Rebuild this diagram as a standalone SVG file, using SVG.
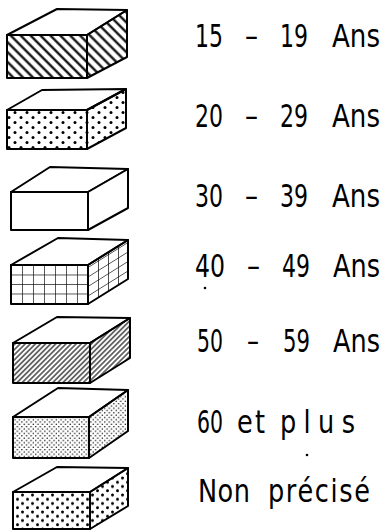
<svg xmlns="http://www.w3.org/2000/svg" width="386" height="531" viewBox="0 0 386 531">
<defs>
  <pattern id="hatchBold" patternUnits="userSpaceOnUse" width="7" height="7" patternTransform="rotate(-45)">
    <line x1="3.5" y1="-1" x2="3.5" y2="8" stroke="#000" stroke-width="2.2"/>
  </pattern>
  <pattern id="hatchFine" patternUnits="userSpaceOnUse" width="3.6" height="3.6" patternTransform="rotate(45)">
    <line x1="1.8" y1="-1" x2="1.8" y2="5" stroke="#000" stroke-width="1.1"/>
  </pattern>
  <pattern id="dotsBig" patternUnits="userSpaceOnUse" width="12" height="10">
    <circle cx="3" cy="2.5" r="1.5" fill="#000"/>
    <circle cx="9" cy="7.5" r="1.5" fill="#000"/>
  </pattern>
  <pattern id="dotsMed" patternUnits="userSpaceOnUse" width="10" height="8.5">
    <circle cx="2.5" cy="2" r="1.5" fill="#000"/>
    <circle cx="7.5" cy="6.25" r="1.5" fill="#000"/>
  </pattern>
  <pattern id="dotsFine" patternUnits="userSpaceOnUse" width="4.6" height="4.6">
    <circle cx="1.2" cy="1.2" r="0.75" fill="#000"/>
    <circle cx="3.5" cy="3.5" r="0.75" fill="#000"/>
  </pattern>
  <pattern id="grid" patternUnits="userSpaceOnUse" x="11" y="265" width="11" height="9.5">
    <line x1="0" y1="0" x2="0" y2="9.5" stroke="#000" stroke-width="1.3"/>
    <line x1="0" y1="0" x2="11" y2="0" stroke="#000" stroke-width="1.3"/>
  </pattern>
  <pattern id="gridSide" patternUnits="userSpaceOnUse" x="88" y="265" width="10" height="9.5" patternTransform="skewY(-32)">
    <line x1="0" y1="0" x2="0" y2="9.5" stroke="#000" stroke-width="1.3"/>
    <line x1="0" y1="0" x2="10" y2="0" stroke="#000" stroke-width="1.3"/>
  </pattern>
</defs>
<style>
  .edge { stroke: #000; stroke-width: 2; stroke-linejoin: round; }
  .top { fill: #fff; }
  .lbl { font-family: "DejaVu Sans", "Liberation Sans", sans-serif; font-size: 32px; fill: #000; }
</style>

<g id="item-15-19">
  <polygon class="edge top" points="7,35 57,9 127,10 87,35"/>
  <polygon class="edge" fill="url(#hatchBold)" points="87,35 127,10 127,57 87,78"/>
  <rect class="edge" fill="url(#hatchBold)" x="7" y="35" width="80" height="43"/>
  <text class="lbl" transform="scale(0.8,1)" y="47"><tspan x="243.75" textLength="35" lengthAdjust="spacingAndGlyphs">15</tspan> <tspan x="306.25" textLength="16.25" lengthAdjust="spacingAndGlyphs">–</tspan> <tspan x="350" textLength="35" lengthAdjust="spacingAndGlyphs">19</tspan> <tspan x="415" textLength="60" lengthAdjust="spacingAndGlyphs">Ans</tspan></text>
</g>

<g id="item-20-29">
  <polygon class="edge top" points="7,110 42,90 126,89 87,110"/>
  <polygon class="edge" fill="url(#dotsBig)" points="87,110 126,89 126,128 87,149"/>
  <rect class="edge" fill="url(#dotsBig)" x="7" y="110" width="80" height="39"/>
  <text class="lbl" transform="scale(0.8,1)" y="127"><tspan x="243.75" textLength="35" lengthAdjust="spacingAndGlyphs">20</tspan> <tspan x="306.25" textLength="16.25" lengthAdjust="spacingAndGlyphs">–</tspan> <tspan x="350" textLength="35" lengthAdjust="spacingAndGlyphs">29</tspan> <tspan x="415" textLength="60" lengthAdjust="spacingAndGlyphs">Ans</tspan></text>
</g>

<g id="item-30-39">
  <polygon class="edge top" points="11,192 50,167 128,169 88,192"/>
  <polygon class="edge" fill="#fff" points="88,192 128,169 128,208 88,230"/>
  <rect class="edge" fill="#fff" x="11" y="192" width="77" height="38"/>
  <text class="lbl" transform="scale(0.8,1)" y="207"><tspan x="243.75" textLength="35" lengthAdjust="spacingAndGlyphs">30</tspan> <tspan x="306.25" textLength="16.25" lengthAdjust="spacingAndGlyphs">–</tspan> <tspan x="350" textLength="35" lengthAdjust="spacingAndGlyphs">39</tspan> <tspan x="415" textLength="60" lengthAdjust="spacingAndGlyphs">Ans</tspan></text>
</g>

<g id="item-40-49">
  <polygon class="edge top" points="11,265 58,238 128,240 88,265"/>
  <polygon class="edge" fill="url(#gridSide)" points="88,265 128,240 128,279 88,304"/>
  <rect class="edge" fill="url(#grid)" x="11" y="265" width="77" height="39"/>
  <text class="lbl" transform="scale(0.8,1)" y="277"><tspan x="243.75" textLength="37.5" lengthAdjust="spacingAndGlyphs">40</tspan> <tspan x="308.75" textLength="16.25" lengthAdjust="spacingAndGlyphs">–</tspan> <tspan x="352.5" textLength="35" lengthAdjust="spacingAndGlyphs">49</tspan> <tspan x="416.25" textLength="58.75" lengthAdjust="spacingAndGlyphs">Ans</tspan></text>
  <circle cx="205" cy="288" r="1.3" fill="#000"/>
</g>

<g id="item-50-59">
  <polygon class="edge top" points="13,343 57,317 130,318 90,343"/>
  <polygon class="edge" fill="url(#hatchFine)" points="90,343 130,318 130,358 90,383"/>
  <rect class="edge" fill="url(#hatchFine)" x="13" y="343" width="77" height="40"/>
  <text class="lbl" transform="scale(0.8,1)" y="352"><tspan x="246.25" textLength="32.5" lengthAdjust="spacingAndGlyphs">50</tspan> <tspan x="308.75" textLength="15" lengthAdjust="spacingAndGlyphs">–</tspan> <tspan x="353.75" textLength="33.75" lengthAdjust="spacingAndGlyphs">59</tspan> <tspan x="416.25" textLength="58.75" lengthAdjust="spacingAndGlyphs">Ans</tspan></text>
</g>

<g id="item-60-plus">
  <polygon class="edge top" points="13,417 58,388 128,390 89,417"/>
  <polygon class="edge" fill="url(#dotsFine)" points="89,417 128,390 128,431 89,458"/>
  <rect class="edge" fill="url(#dotsFine)" x="13" y="417" width="76" height="41"/>
  <text class="lbl" transform="scale(0.8,1)" y="433"><tspan x="246.25" textLength="32.5" lengthAdjust="spacingAndGlyphs">60</tspan> <tspan x="296.25" textLength="35" lengthAdjust="spacing">et</tspan> <tspan x="350" textLength="93.75" lengthAdjust="spacing">plus</tspan></text>
  <circle cx="307" cy="455" r="1.3" fill="#000"/>
</g>

<g id="item-non-precise">
  <polygon class="edge top" points="13,492 57,467 128,468 90,492"/>
  <polygon class="edge" fill="url(#dotsMed)" points="90,492 128,468 128,506 90,529"/>
  <rect class="edge" fill="url(#dotsMed)" x="13" y="492" width="77" height="37"/>
  <text class="lbl" transform="scale(0.8,1)" y="502"><tspan x="247.5" textLength="65" lengthAdjust="spacing">Non</tspan> <tspan x="335" textLength="127.5" lengthAdjust="spacing">précisé</tspan></text>
</g>

<g id="connectors"></g>
</svg>
